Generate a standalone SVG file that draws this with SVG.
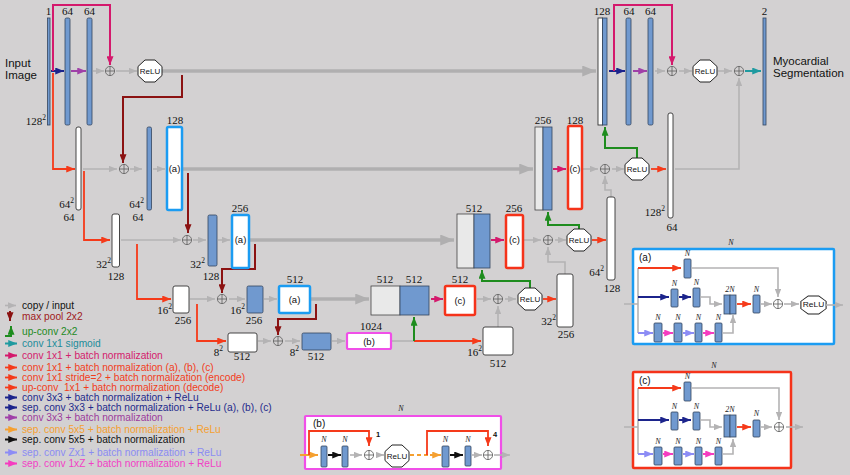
<svg xmlns="http://www.w3.org/2000/svg" width="850" height="475" viewBox="0 0 850 475">
<style>
.blue{fill:#7099cf;stroke:#34455e;stroke-width:0.8}
.wht{fill:#fff;stroke:#333;stroke-width:0.9}
.lt{fill:#e9e9e9;stroke:#444;stroke-width:0.8}
.ba{fill:#fff;stroke:#1b9cf2;stroke-width:2.5}
.bc{fill:#fff;stroke:#f5331a;stroke-width:2.5}
.bb{fill:#fff;stroke:#f04fe8;stroke-width:2.2}
.num{font-family:"Liberation Serif",serif;font-size:11px;fill:#111}
.mid{text-anchor:middle}
.end{text-anchor:end}
.sans{font-family:"Liberation Sans",Arial,sans-serif;fill:#111}
.lbl{font-family:"Liberation Sans",Arial,sans-serif;font-size:9.5px;fill:#111;text-anchor:middle}
.lg{font-family:"Liberation Sans",Arial,sans-serif;font-size:10.2px}
.nn{font-family:"Liberation Serif",serif;font-style:italic;font-size:8px;fill:#222;text-anchor:middle}
.relu{font-family:"Liberation Sans",Arial,sans-serif;font-size:8px;fill:#111;text-anchor:middle}
.oct{fill:#fff;stroke:#222;stroke-width:1}
.g{fill:none;stroke:#b4b3b4;stroke-width:1.6}
.gk{fill:none;stroke:#b0afb0;stroke-width:3.5}
.r{fill:none;stroke:#f53a1a;stroke-width:1.8}
.dr{fill:none;stroke:#8b1212;stroke-width:2}
.gr{fill:none;stroke:#1e8c1e;stroke-width:2}
.m{fill:none;stroke:#d4196c;stroke-width:2}
.nv{fill:none;stroke:#1c248c;stroke-width:2}
.pu{fill:none;stroke:#a040a8;stroke-width:2}
.tl{fill:none;stroke:#1f9aa0;stroke-width:2}
.or{fill:none;stroke:#f5a030;stroke-width:2}
.bk{fill:none;stroke:#111;stroke-width:2}
.lb{fill:none;stroke:#8c8cf5;stroke-width:2}
.pk{fill:none;stroke:#f53cc0;stroke-width:2}
</style>
<defs>
<marker id="mG" viewBox="0 0 10 8" refX="10" refY="4" markerWidth="8" markerHeight="6.5" markerUnits="userSpaceOnUse" orient="auto"><path d="M0,0L10,4L0,8z" fill="#b4b3b4"/></marker>
<marker id="mGk" viewBox="0 0 10 8" refX="10" refY="4" markerWidth="15" markerHeight="11" markerUnits="userSpaceOnUse" orient="auto"><path d="M0,0L10,4L0,8z" fill="#b0afb0"/></marker>
<marker id="mR" viewBox="0 0 10 8" refX="10" refY="4" markerWidth="9" markerHeight="7" markerUnits="userSpaceOnUse" orient="auto"><path d="M0,0L10,4L0,8z" fill="#f53a1a"/></marker>
<marker id="mDR" viewBox="0 0 10 8" refX="10" refY="4" markerWidth="9" markerHeight="7" markerUnits="userSpaceOnUse" orient="auto"><path d="M0,0L10,4L0,8z" fill="#8b1212"/></marker>
<marker id="mGr" viewBox="0 0 10 8" refX="10" refY="4" markerWidth="9" markerHeight="7" markerUnits="userSpaceOnUse" orient="auto"><path d="M0,0L10,4L0,8z" fill="#1e8c1e"/></marker>
<marker id="mM" viewBox="0 0 10 8" refX="10" refY="4" markerWidth="9" markerHeight="7" markerUnits="userSpaceOnUse" orient="auto"><path d="M0,0L10,4L0,8z" fill="#d4196c"/></marker>
<marker id="mN" viewBox="0 0 10 8" refX="10" refY="4" markerWidth="9" markerHeight="7" markerUnits="userSpaceOnUse" orient="auto"><path d="M0,0L10,4L0,8z" fill="#1c248c"/></marker>
<marker id="mP" viewBox="0 0 10 8" refX="10" refY="4" markerWidth="9" markerHeight="7" markerUnits="userSpaceOnUse" orient="auto"><path d="M0,0L10,4L0,8z" fill="#a040a8"/></marker>
<marker id="mT" viewBox="0 0 10 8" refX="10" refY="4" markerWidth="9" markerHeight="7" markerUnits="userSpaceOnUse" orient="auto"><path d="M0,0L10,4L0,8z" fill="#1f9aa0"/></marker>
<marker id="mO" viewBox="0 0 10 8" refX="10" refY="4" markerWidth="9" markerHeight="7" markerUnits="userSpaceOnUse" orient="auto"><path d="M0,0L10,4L0,8z" fill="#f5a030"/></marker>
<marker id="mK" viewBox="0 0 10 8" refX="10" refY="4" markerWidth="9" markerHeight="7" markerUnits="userSpaceOnUse" orient="auto"><path d="M0,0L10,4L0,8z" fill="#111"/></marker>
<marker id="mLB" viewBox="0 0 10 8" refX="10" refY="4" markerWidth="9" markerHeight="7" markerUnits="userSpaceOnUse" orient="auto"><path d="M0,0L10,4L0,8z" fill="#8c8cf5"/></marker>
<marker id="mPk" viewBox="0 0 10 8" refX="10" refY="4" markerWidth="9" markerHeight="7" markerUnits="userSpaceOnUse" orient="auto"><path d="M0,0L10,4L0,8z" fill="#f53cc0"/></marker>
<g id="op"><circle r="4.6" fill="none" stroke="#666" stroke-width="0.9"/><path d="M-4.6,0H4.6M0,-4.6V4.6" stroke="#666" stroke-width="0.9"/></g>
<g id="rl"><path class="oct" d="M-5,-11H5L12,-4.5V4.5L5,11H-5L-12,4.5V-4.5Z"/><text class="relu" y="3">ReLU</text></g>
</defs>
<rect width="850" height="475" fill="#d3d1d2"/>

<g id="connectors">
<!-- encoder level 1 -->
<path class="nv" d="M51,71H64" marker-end="url(#mN)"/>
<path class="pu" d="M71,71H86" marker-end="url(#mP)"/>
<path class="g" d="M93,71H104" marker-end="url(#mG)"/>
<path class="g" d="M116,71H137" marker-end="url(#mG)"/>
<path class="m" d="M53,71V5H110V65" marker-end="url(#mM)"/>
<path class="r" d="M53,73V169H75" marker-end="url(#mR)"/>
<path class="gk" d="M162,71H596" marker-end="url(#mGk)"/>
<path class="dr" d="M182,75V97H123V163" marker-end="url(#mDR)"/>
<!-- level 2 -->
<path class="g" d="M83,169H117" marker-end="url(#mG)"/>
<path class="g" d="M130,169H142" marker-end="url(#mG)"/>
<path class="g" d="M153,169H165" marker-end="url(#mG)"/>
<path class="gk" d="M182,169H533" marker-end="url(#mGk)"/>
<path class="r" d="M84,171V240H110" marker-end="url(#mR)"/>
<path class="dr" d="M188,173V233" marker-end="url(#mDR)"/>
<!-- level 3 -->
<path class="g" d="M121,240H181" marker-end="url(#mG)"/>
<path class="g" d="M193,240H206" marker-end="url(#mG)"/>
<path class="g" d="M218,240H230" marker-end="url(#mG)"/>
<path class="gk" d="M249,240H454" marker-end="url(#mGk)"/>
<path class="r" d="M137,244V299H171" marker-end="url(#mR)"/>
<path class="dr" d="M255,244V269H222V293" marker-end="url(#mDR)"/>
<!-- level 4 -->
<path class="g" d="M190,299H215" marker-end="url(#mG)"/>
<path class="g" d="M229,299H245" marker-end="url(#mG)"/>
<path class="g" d="M264,299H277" marker-end="url(#mG)"/>
<path class="gk" d="M311,299H369" marker-end="url(#mGk)"/>
<path class="r" d="M197,304V341H226" marker-end="url(#mR)"/>
<path class="dr" d="M316,304V319H278V335" marker-end="url(#mDR)"/>
<!-- level 5 -->
<path class="g" d="M258,341H271" marker-end="url(#mG)"/>
<path class="g" d="M285,341H300" marker-end="url(#mG)"/>
<path class="g" d="M332,341H345" marker-end="url(#mG)"/>
<path class="g" d="M392,341H414"/>
<path class="r" d="M414,341H481" marker-end="url(#mR)"/>
<path class="gr" d="M414,341V317" marker-end="url(#mGr)"/>
<!-- decoder level 4 -->
<path class="m" d="M431,299H443" marker-end="url(#mM)"/>
<path class="g" d="M477,299H491" marker-end="url(#mG)"/>
<path class="g" d="M505,299H516" marker-end="url(#mG)"/>
<path class="r" d="M543,299H556" marker-end="url(#mR)"/>
<path class="gr" d="M530,288V281H482V270" marker-end="url(#mGr)"/>
<path class="g" d="M498,327V306" marker-end="url(#mG)"/>
<!-- decoder level 3 -->
<path class="m" d="M491,240H504" marker-end="url(#mM)"/>
<path class="g" d="M524,240H541" marker-end="url(#mG)"/>
<path class="g" d="M555,240H566" marker-end="url(#mG)"/>
<path class="r" d="M592,240H606" marker-end="url(#mR)"/>
<path class="gr" d="M579,229V225H548V212" marker-end="url(#mGr)"/>
<path class="g" d="M565,274V262H548V247" marker-end="url(#mG)"/>
<!-- decoder level 2 -->
<path class="m" d="M553,169H566" marker-end="url(#mM)"/>
<path class="g" d="M583,169H598" marker-end="url(#mG)"/>
<path class="g" d="M612,169H624" marker-end="url(#mG)"/>
<path class="r" d="M651,169H666" marker-end="url(#mR)"/>
<path class="gr" d="M637,158V148H605V127" marker-end="url(#mGr)"/>
<path class="g" d="M611,197V190H605V176" marker-end="url(#mG)"/>
<path class="g" d="M675,169H739V78" marker-end="url(#mG)"/>
<!-- decoder level 1 -->
<path class="nv" d="M609,71H625" marker-end="url(#mN)"/>
<path class="m" d="M614,71V5H672V65" marker-end="url(#mM)"/>
<path class="pu" d="M633,71H647" marker-end="url(#mP)"/>
<path class="g" d="M655,71H665" marker-end="url(#mG)"/>
<path class="g" d="M679,71H692" marker-end="url(#mG)"/>
<path class="g" d="M718,71H732" marker-end="url(#mG)"/>
<path class="tl" d="M745,71H761" marker-end="url(#mT)"/>
</g>

<!-- encoder nodes -->
<g id="input">
<text class="sans" x="5" y="67" font-size="11.5">Input</text>
<text class="sans" x="5" y="79" font-size="11.5">Image</text>
<rect class="blue" x="47.5" y="18" width="2.5" height="107"/>
<text class="num mid" x="48.5" y="15">1</text>
<text class="num end" x="46" y="125">128<tspan dy="-5" font-size="7.5">2</tspan></text>
</g>
<g id="enc1a"><rect class="blue" x="65" y="18" width="5" height="107" rx="1.5"/><text class="num mid" x="67.5" y="15">64</text></g>
<g id="enc1b"><rect class="blue" x="87" y="18" width="5" height="107" rx="1.5"/><text class="num mid" x="89.5" y="15">64</text></g>
<g id="add1"><use href="#op" x="110" y="71"/></g>
<g id="relu1"><use href="#rl" x="150" y="71"/></g>

<g id="enc2w"><rect class="wht" x="76" y="127" width="5" height="83" rx="2"/><text class="num end" x="74" y="208">64<tspan dy="-5" font-size="7.5">2</tspan></text><text class="num mid" x="69" y="221">64</text></g>
<g id="add2"><use href="#op" x="124" y="169"/></g>
<g id="enc2b"><rect class="blue" x="147" y="127" width="4.5" height="83" rx="1.5"/><text class="num end" x="144" y="208">64<tspan dy="-5" font-size="7.5">2</tspan></text><text class="num mid" x="138" y="221">64</text></g>
<g id="enc2a"><rect class="ba" x="167" y="127" width="15" height="83" rx="1.5"/><text class="lbl" x="174.5" y="172">(a)</text><text class="num mid" x="175" y="124">128</text></g>

<g id="enc3w"><rect class="wht" x="112" y="214" width="7.5" height="53" rx="2"/><text class="num end" x="111" y="268">32<tspan dy="-5" font-size="7.5">2</tspan></text><text class="num mid" x="116" y="280">128</text></g>
<g id="add3"><use href="#op" x="187" y="240"/></g>
<g id="enc3b"><rect class="blue" x="208" y="215" width="9" height="51" rx="1.5"/><text class="num end" x="205" y="268">32<tspan dy="-5" font-size="7.5">2</tspan></text><text class="num mid" x="211" y="280">128</text></g>
<g id="enc3a"><rect class="ba" x="232" y="215" width="17" height="53" rx="1.5"/><text class="lbl" x="240.5" y="243">(a)</text><text class="num mid" x="240" y="212">256</text></g>

<g id="enc4w"><rect class="wht" x="173" y="286" width="16" height="27" rx="2"/><text class="num end" x="172" y="314">16<tspan dy="-5" font-size="7.5">2</tspan></text><text class="num mid" x="183" y="324">256</text></g>
<g id="add4"><use href="#op" x="222" y="299"/></g>
<g id="enc4b"><rect class="blue" x="247" y="286" width="16" height="27" rx="1.5"/><text class="num end" x="245" y="314">16<tspan dy="-5" font-size="7.5">2</tspan></text><text class="num mid" x="254" y="324">256</text></g>
<g id="enc4a"><rect class="ba" x="279" y="286" width="31" height="27" rx="1.5"/><text class="lbl" x="294.5" y="302.5">(a)</text><text class="num mid" x="295" y="283">512</text></g>

<g id="enc5w"><rect class="wht" x="228" y="333" width="29" height="19" rx="2"/><text class="num end" x="223" y="356">8<tspan dy="-5" font-size="7.5">2</tspan></text><text class="num mid" x="242" y="360">512</text></g>
<g id="add5"><use href="#op" x="278" y="341"/></g>
<g id="enc5b"><rect class="blue" x="302" y="333" width="29" height="17" rx="1.5"/><text class="num end" x="299" y="356">8<tspan dy="-5" font-size="7.5">2</tspan></text><text class="num mid" x="316" y="360">512</text></g>
<g id="bridge"><rect class="bb" x="347" y="333" width="44" height="16" rx="1.5"/><text class="lbl" x="369" y="344.5">(b)</text><text class="num mid" x="371" y="330">1024</text></g>

<!-- decoder nodes -->
<g id="dec5w"><rect class="wht" x="483" y="327" width="30" height="28" rx="2"/><text class="num end" x="482" y="356">16<tspan dy="-5" font-size="7.5">2</tspan></text><text class="num mid" x="498" y="367">512</text></g>
<g id="dec4cat"><rect class="lt" x="371" y="286" width="29" height="29"/><rect class="blue" x="400" y="286" width="29" height="29"/><text class="num mid" x="385" y="283">512</text><text class="num mid" x="414" y="283">512</text></g>
<g id="dec4c"><rect class="bc" x="445" y="286" width="30" height="29" rx="1.5"/><text class="lbl" x="460" y="303.5">(c)</text><text class="num mid" x="460" y="283">512</text></g>
<g id="dec4add"><use href="#op" x="498" y="299"/></g>
<g id="dec4relu"><use href="#rl" x="530" y="299"/></g>
<g id="dec4w"><rect class="wht" x="557" y="274" width="16" height="53" rx="2"/><text class="num end" x="556" y="325">32<tspan dy="-5" font-size="7.5">2</tspan></text><text class="num mid" x="566" y="338">256</text></g>

<g id="dec3cat"><rect class="lt" x="457" y="214" width="17" height="54"/><rect class="blue" x="474" y="214" width="16" height="54"/><text class="num mid" x="474" y="212">512</text></g>
<g id="dec3c"><rect class="bc" x="506" y="215" width="17" height="53" rx="1.5"/><text class="lbl" x="514.5" y="243">(c)</text><text class="num mid" x="514" y="212">256</text></g>
<g id="dec3add"><use href="#op" x="548" y="240"/></g>
<g id="dec3relu"><use href="#rl" x="579" y="240"/></g>
<g id="dec3w"><rect class="wht" x="607" y="197" width="8" height="83" rx="2"/><text class="num end" x="604" y="276">64<tspan dy="-5" font-size="7.5">2</tspan></text><text class="num mid" x="612" y="292">128</text></g>

<g id="dec2cat"><rect class="lt" x="535" y="127" width="8" height="83"/><rect class="blue" x="543" y="127" width="9" height="83"/><text class="num mid" x="543" y="124">256</text></g>
<g id="dec2c"><rect class="bc" x="568" y="126" width="14" height="83" rx="1.5"/><text class="lbl" x="575" y="172">(c)</text><text class="num mid" x="575" y="124">128</text></g>
<g id="dec2add"><use href="#op" x="605" y="169"/></g>
<g id="dec2relu"><use href="#rl" x="637" y="169"/></g>
<g id="dec2w"><rect class="wht" x="668" y="113" width="5" height="105" rx="2"/><text class="num end" x="665" y="216">128<tspan dy="-5" font-size="7.5">2</tspan></text><text class="num mid" x="672" y="231">64</text></g>

<g id="dec1cat"><rect class="wht" x="598" y="18" width="4.5" height="107"/><rect class="blue" x="602.5" y="18" width="4.5" height="107"/><text class="num mid" x="602" y="15">128</text></g>
<g id="dec1a"><rect class="blue" x="626" y="18" width="5" height="107" rx="1.5"/><text class="num mid" x="629" y="15">64</text></g>
<g id="dec1b"><rect class="blue" x="648" y="18" width="5" height="107" rx="1.5"/><text class="num mid" x="650.5" y="15">64</text></g>
<g id="dec1add"><use href="#op" x="672" y="71"/></g>
<g id="dec1relu"><use href="#rl" x="705" y="71"/></g>
<g id="dec1add2"><use href="#op" x="739" y="71"/></g>
<g id="output"><rect class="blue" x="763" y="18" width="3" height="107"/><text class="num mid" x="764.5" y="15">2</text>
<text class="sans" x="773" y="65" font-size="11.5">Myocardial</text>
<text class="sans" x="773" y="77" font-size="11.5">Segmentation</text></g>

<!-- legend -->
<g id="legend">
<path class="g" d="M5,305.5H16" marker-end="url(#mG)"/>
<text class="lg" x="22" y="309" fill="#111">copy / input</text>
<path class="dr" d="M10,311V321" marker-end="url(#mDR)"/>
<text class="lg" x="22" y="320" fill="#a01a1a">max pool 2x2</text>
<path class="gr" d="M5,336H11V326" marker-end="url(#mGr)"/>
<text class="lg" x="22" y="335" fill="#1e8a1e">up-conv 2x2</text>
<path class="tl" d="M5,343.5H17" marker-end="url(#mT)"/>
<text class="lg" x="22" y="347" fill="#1d8c9a">conv 1x1 sigmoid</text>
<path class="m" d="M5,355.5H17" marker-end="url(#mM)"/>
<text class="lg" x="22" y="359" fill="#d3206c">conv 1x1 + batch normalization</text>
<path class="r" d="M5,367.5H17" marker-end="url(#mR)"/>
<text class="lg" x="22" y="371" fill="#f23d1c">conv 1x1 + batch normalization (a), (b), (c)</text>
<path class="r" d="M5,377.5H17" marker-end="url(#mR)"/>
<text class="lg" x="22" y="381" fill="#f23d1c">conv 1x1 stride=2 + batch normalization (encode)</text>
<path class="r" d="M5,387.5H17" marker-end="url(#mR)"/>
<text class="lg" x="22" y="391" fill="#f23d1c">up-conv&#160; 1x1 + batch normalization (decode)</text>
<path class="nv" d="M5,397.5H17" marker-end="url(#mN)"/>
<text class="lg" x="22" y="401" fill="#1f2a8c">conv 3x3 + batch normalization + ReLu</text>
<path class="nv" d="M5,407.5H17" marker-end="url(#mN)"/>
<text class="lg" x="22" y="411" fill="#1f2a8c">sep. conv 3x3 + batch normalization + ReLu (a), (b), (c)</text>
<path class="pu" d="M5,417.5H17" marker-end="url(#mP)"/>
<text class="lg" x="22" y="421" fill="#9c3c9c">conv 3x3 + batch normalization</text>
<path class="or" d="M5,429.5H17" marker-end="url(#mO)"/>
<text class="lg" x="22" y="433" fill="#f5a030">sep. conv 5x5 + batch normalization + ReLu</text>
<path class="bk" d="M5,439.5H17" marker-end="url(#mK)"/>
<text class="lg" x="22" y="443" fill="#111">sep. conv 5x5 + batch normalization</text>
<path class="lb" d="M5,452.5H17" marker-end="url(#mLB)"/>
<text class="lg" x="22" y="456" fill="#8b8cf2">sep. conv Zx1 + batch normalization + ReLu</text>
<path class="pk" d="M5,463.5H17" marker-end="url(#mPk)"/>
<text class="lg" x="22" y="467" fill="#f23fc6">sep. conv 1xZ + batch normalization + ReLu</text>
</g>

<!-- inset (a) -->
<g id="inset-a">
<rect class="ba" x="633" y="249" width="201" height="95" rx="1"/>
<text class="nn" x="731" y="245">N</text>
<text class="sans" x="639" y="261" font-size="10">(a)</text>
<path class="g" d="M624,304H638M638,268V333"/>
<path class="r" d="M638,268H681" marker-end="url(#mR)"/>
<rect class="blue" x="684" y="259" width="7" height="19" rx="1"/><text class="nn" x="687.5" y="256">N</text>
<path class="g" d="M691,268H778V297" marker-end="url(#mG)"/>
<path class="nv" d="M638,297H669" marker-end="url(#mN)"/>
<rect class="blue" x="671" y="289" width="7" height="18" rx="1"/><text class="nn" x="674.5" y="286">N</text>
<path class="nv" d="M679,297H691" marker-end="url(#mN)"/>
<rect class="blue" x="693" y="288" width="7" height="19" rx="1"/><text class="nn" x="696.5" y="285">N</text>
<path class="g" d="M700,297H710V304H722" marker-end="url(#mG)"/>
<rect class="blue" x="724" y="295" width="6" height="19"/><rect class="blue" x="730" y="295" width="6" height="19"/>
<text class="nn" x="730" y="292">2N</text>
<path class="r" d="M737,304H751" marker-end="url(#mR)"/>
<rect class="blue" x="753" y="295" width="7" height="18" rx="1"/><text class="nn" x="756.5" y="292">N</text>
<path class="g" d="M761,304H772" marker-end="url(#mG)"/>
<use href="#op" x="778" y="304"/>
<path class="g" d="M784,304H799" marker-end="url(#mG)"/>
<use href="#rl" transform="translate(813.5,305) scale(1.05,0.82)"/>
<path class="g" d="M826,305H843" marker-end="url(#mG)"/>
<path class="lb" d="M638,333H653" marker-end="url(#mLB)"/>
<rect class="blue" x="654" y="323" width="8" height="19" rx="1"/><text class="nn" x="658" y="320">N</text>
<path class="pk" d="M663,333H673" marker-end="url(#mPk)"/>
<rect class="blue" x="674" y="323" width="8" height="19" rx="1"/><text class="nn" x="678" y="320">N</text>
<path class="lb" d="M683,333H694" marker-end="url(#mLB)"/>
<rect class="blue" x="695" y="323" width="7" height="19" rx="1"/><text class="nn" x="698.5" y="320">N</text>
<path class="pk" d="M703,333H714" marker-end="url(#mPk)"/>
<rect class="blue" x="715" y="323" width="7" height="19" rx="1"/><text class="nn" x="718.5" y="320">N</text>
<path class="g" d="M723,333H733V315" marker-end="url(#mG)"/>
</g>

<!-- inset (c) -->
<g id="inset-c">
<rect class="bc" x="633" y="372" width="158" height="96" rx="1"/>
<text class="nn" x="714" y="368">N</text>
<text class="sans" x="639" y="384" font-size="10">(c)</text>
<path class="g" d="M624,427H638M638,388V454"/>
<path class="r" d="M638,388H681" marker-end="url(#mR)"/>
<rect class="blue" x="684" y="382" width="7" height="19" rx="1"/><text class="nn" x="687.5" y="379">N</text>
<path class="g" d="M691,388H779V420" marker-end="url(#mG)"/>
<path class="nv" d="M638,420H669" marker-end="url(#mN)"/>
<rect class="blue" x="671" y="412" width="7" height="18" rx="1"/><text class="nn" x="674.5" y="409">N</text>
<path class="nv" d="M679,420H691" marker-end="url(#mN)"/>
<rect class="blue" x="693" y="412" width="7" height="18" rx="1"/><text class="nn" x="696.5" y="409">N</text>
<path class="g" d="M700,420H710V427H722" marker-end="url(#mG)"/>
<rect class="blue" x="724" y="415" width="6" height="22"/><rect class="blue" x="730" y="415" width="6" height="22"/>
<text class="nn" x="730" y="412">2N</text>
<path class="r" d="M737,427H751" marker-end="url(#mR)"/>
<rect class="blue" x="753" y="420" width="7" height="17" rx="1"/><text class="nn" x="756.5" y="416">N</text>
<path class="g" d="M761,427H772" marker-end="url(#mG)"/>
<use href="#op" x="779" y="427"/>
<path class="g" d="M786,427H803" marker-end="url(#mG)"/>
<path class="lb" d="M638,454H653" marker-end="url(#mLB)"/>
<rect class="blue" x="654" y="447" width="8" height="18" rx="1"/><text class="nn" x="658" y="444">N</text>
<path class="pk" d="M663,454H673" marker-end="url(#mPk)"/>
<rect class="blue" x="674" y="447" width="8" height="18" rx="1"/><text class="nn" x="678" y="444">N</text>
<path class="lb" d="M683,454H694" marker-end="url(#mLB)"/>
<rect class="blue" x="695" y="447" width="7" height="18" rx="1"/><text class="nn" x="698.5" y="444">N</text>
<path class="pk" d="M703,454H714" marker-end="url(#mPk)"/>
<rect class="blue" x="715" y="447" width="7" height="18" rx="1"/><text class="nn" x="718.5" y="444">N</text>
<path class="g" d="M723,454H733V439" marker-end="url(#mG)"/>
</g>

<!-- inset (b) -->
<g id="inset-b">
<rect class="bb" x="305" y="416" width="196" height="53" rx="1"/>
<text class="nn" x="401" y="411">N</text>
<text class="sans" x="313" y="427" font-size="10">(b)</text>
<path class="or" d="M300,455H318" marker-end="url(#mO)"/>
<path class="r" d="M309,455V431H369V446" marker-end="url(#mR)"/>
<text class="sans" x="376" y="437" font-size="7.5" font-weight="bold">1</text>
<rect class="blue" x="321" y="446" width="6" height="21" rx="1"/><text class="nn" x="324" y="442">N</text>
<path class="bk" d="M328,455H341" marker-end="url(#mK)"/>
<rect class="blue" x="342" y="446" width="6" height="21" rx="1"/><text class="nn" x="345" y="442">N</text>
<path class="g" d="M350,455H362" marker-end="url(#mG)"/>
<use href="#op" x="369" y="455"/>
<path class="g" d="M376,455H384" marker-end="url(#mG)"/>
<use href="#rl" x="397" y="456"/>
<path class="or" d="M410,455H430" stroke-dasharray="4,3"/>
<path class="r" d="M427,455V431H488V446" marker-end="url(#mR)"/>
<path class="or" d="M430,455H441" marker-end="url(#mO)"/>
<text class="sans" x="493" y="437" font-size="7.5" font-weight="bold">4</text>
<rect class="blue" x="442" y="446" width="7" height="21" rx="1"/><text class="nn" x="445.5" y="442">N</text>
<path class="bk" d="M450,455H463" marker-end="url(#mK)"/>
<rect class="blue" x="465" y="446" width="6" height="20" rx="1"/><text class="nn" x="468" y="442">N</text>
<path class="g" d="M472,455H482" marker-end="url(#mG)"/>
<use href="#op" x="488" y="455"/>
<path class="g" d="M494,455H510" marker-end="url(#mG)"/>
</g>
</svg>
